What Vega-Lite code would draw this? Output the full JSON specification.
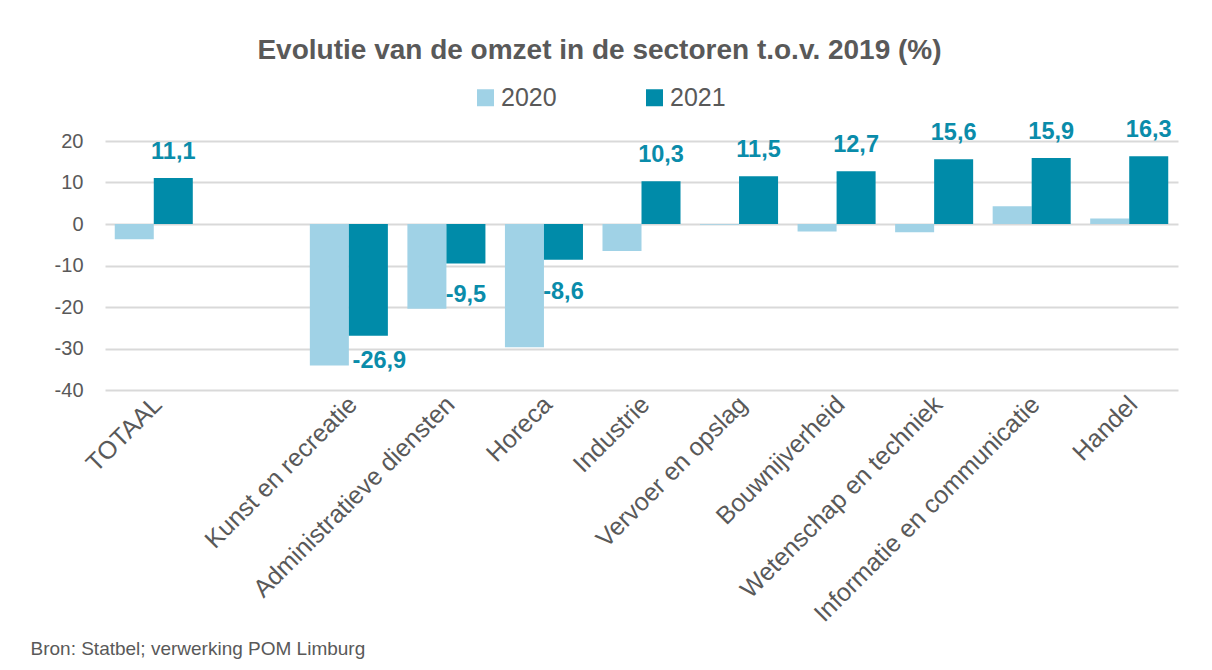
{
  "$schema": "https://vega.github.io/schema/vega-lite/v6.json",
  "width": 1073,
  "height": 249,
  "autosize": {"type": "none"},
  "padding": {"left": 105, "top": 141, "right": 34, "bottom": 280},
  "background": "white",
  "config": {
    "locale": {"number": {"decimal": ",", "thousands": ".", "grouping": [3], "currency": ["€", ""], "minus": "-"}},
    "view": {"stroke": null},
    "font": "Liberation Sans"
  },
  "title": {
    "text": "Evolutie van de omzet in de sectoren t.o.v. 2019 (%)",
    "fontSize": 28,
    "fontWeight": "bold",
    "color": "#595959",
    "anchor": "middle",
    "frame": "group",
    "dx": -42,
    "offset": 20
  },
  "data": {
    "values": [
      {"sector": "TOTAAL", "year": "2020", "value": -3.7},
      {"sector": "TOTAAL", "year": "2021", "value": 11.1},
      {"sector": "Kunst en recreatie", "year": "2020", "value": -34.1},
      {"sector": "Kunst en recreatie", "year": "2021", "value": -26.9},
      {"sector": "Administratieve diensten", "year": "2020", "value": -20.4},
      {"sector": "Administratieve diensten", "year": "2021", "value": -9.5},
      {"sector": "Horeca", "year": "2020", "value": -29.7},
      {"sector": "Horeca", "year": "2021", "value": -8.6},
      {"sector": "Industrie", "year": "2020", "value": -6.5},
      {"sector": "Industrie", "year": "2021", "value": 10.3},
      {"sector": "Vervoer en opslag", "year": "2020", "value": -0.2},
      {"sector": "Vervoer en opslag", "year": "2021", "value": 11.5},
      {"sector": "Bouwnijverheid", "year": "2020", "value": -1.8},
      {"sector": "Bouwnijverheid", "year": "2021", "value": 12.7},
      {"sector": "Wetenschap en techniek", "year": "2020", "value": -2.0},
      {"sector": "Wetenschap en techniek", "year": "2021", "value": 15.6},
      {"sector": "Informatie en communicatie", "year": "2020", "value": 4.3},
      {"sector": "Informatie en communicatie", "year": "2021", "value": 15.9},
      {"sector": "Handel", "year": "2020", "value": 1.3},
      {"sector": "Handel", "year": "2021", "value": 16.3}
    ]
  },
  "encoding": {
    "x": {
      "field": "sector",
      "type": "nominal",
      "sort": null,
      "scale": {
        "domain": ["TOTAAL", " ", "Kunst en recreatie", "Administratieve diensten", "Horeca", "Industrie", "Vervoer en opslag", "Bouwnijverheid", "Wetenschap en techniek", "Informatie en communicatie", "Handel"],
        "paddingInner": 0.2,
        "paddingOuter": 0.1
      },
      "axis": {
        "labelAngle": -45,
        "labelAlign": "right",
        "labelBaseline": "middle",
        "labelFontSize": 25,
        "labelColor": "#595959",
        "labelPadding": 10,
        "labelLimit": 400,
        "labelOffset": 4,
        "ticks": false,
        "domain": false,
        "grid": false,
        "title": "Bron: Statbel; verwerking POM Limburg",
        "titleFontSize": 19,
        "titleFontWeight": "normal",
        "titleColor": "#595959",
        "titleX": -75,
        "titleY": 258,
        "titleAlign": "left",
        "titleBaseline": "middle",
        "titleAngle": 0
      }
    },
    "xOffset": {"field": "year", "type": "nominal", "scale": {"domain": ["2020", "2021"]}},
    "y": {
      "field": "value",
      "type": "quantitative",
      "scale": {"domain": [-40, 20], "nice": false},
      "axis": {
        "values": [-40, -30, -20, -10, 0, 10, 20],
        "grid": true,
        "gridColor": "#D9D9D9",
        "gridWidth": 2,
        "domain": false,
        "ticks": false,
        "labelFontSize": 20,
        "labelColor": "#595959",
        "labelPadding": 22,
        "title": null
      }
    }
  },
  "layer": [
    {
      "mark": {"type": "bar"},
      "encoding": {
        "color": {
          "field": "year",
          "type": "nominal",
          "scale": {"domain": ["2020", "2021"], "range": ["#A0D2E6", "#008BA9"]},
          "legend": {
            "orient": "none",
            "legendX": 368,
            "legendY": -56,
            "direction": "horizontal",
            "title": null,
            "symbolType": "square",
            "symbolSize": 289,
            "symbolStrokeWidth": 0,
            "symbolOpacity": 1,
            "labelFontSize": 25,
            "labelColor": "#595959",
            "labelOffset": 3,
            "columnPadding": 85
          }
        }
      }
    },
    {
      "transform": [{"filter": "datum.year == '2021' && datum.value >= 0"}],
      "mark": {"type": "text", "fontSize": 23.5, "fontWeight": "bold", "color": "#0A8CAA", "baseline": "alphabetic", "dy": -19},
      "encoding": {"text": {"field": "value", "type": "quantitative", "format": ".1f"}}
    },
    {
      "transform": [{"filter": "datum.year == '2021' && datum.value < 0 && datum.sector != 'Kunst en recreatie'"}],
      "mark": {"type": "text", "fontSize": 23.5, "fontWeight": "bold", "color": "#0A8CAA", "baseline": "alphabetic", "dy": 39},
      "encoding": {"text": {"field": "value", "type": "quantitative", "format": ".1f"}}
    },
    {
      "transform": [{"filter": "datum.year == '2021' && datum.sector == 'Kunst en recreatie'"}],
      "mark": {"type": "text", "fontSize": 23.5, "fontWeight": "bold", "color": "#0A8CAA", "baseline": "alphabetic", "dy": 32, "dx": 11},
      "encoding": {"text": {"field": "value", "type": "quantitative", "format": ".1f"}}
    }
  ]
}
